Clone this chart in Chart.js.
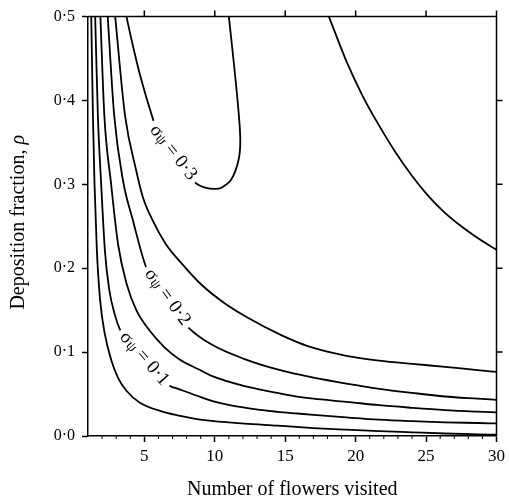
<!DOCTYPE html>
<html>
<head>
<meta charset="utf-8">
<script src="https://cdn.jsdelivr.net/npm/chart.js@4.4.1/dist/chart.umd.min.js"></script>
<style>
  html, body { margin: 0; padding: 0; background: #fff; }
  #wrap { width: 509px; height: 502px; }
</style>
</head>
<body>
<div id="wrap"><canvas id="contour_chart" width="509" height="502"></canvas></div>
<script>
const serif = "'Liberation Serif', 'DejaVu Serif', serif";

const x_ticks = [5, 10, 15, 20, 25, 30];
const y_ticks = [0, 0.1, 0.2, 0.3, 0.4, 0.5];

// contour lines, from the corner outwards
const s05_x = [1.23, 1.35, 1.46, 1.63, 1.86, 2.19, 2.66, 3.14, 3.73, 4.66, 6.29, 7.45, 8.62, 9.78, 12.12, 14.45, 17.0, 19.34, 21.67, 24.0, 26.34, 28.66, 30];
const s05_rho = [0.5, 0.382, 0.302, 0.221, 0.162, 0.122, 0.090, 0.069, 0.054, 0.040, 0.029, 0.0243, 0.0205, 0.0181, 0.0148, 0.0124, 0.0095, 0.0075, 0.0058, 0.0044, 0.0030, 0.0020, 0.0015];

const s10_x = [1.51, 1.70, 1.93, 2.2, 2.5, 2.9, 3.24, 3.6, 4.3, 5.0, 5.9, 6.8, 7.45, 8.73, 9.78, 12.12, 14.45, 15.85, 17.01, 19.34, 21.67, 24.01, 26.34, 28.66, 30];
const s10_rho = [0.5, 0.382, 0.302, 0.221, 0.175, 0.145, 0.128, 0.119, 0.106, 0.092, 0.075, 0.060, 0.0559, 0.048, 0.0419, 0.0337, 0.0288, 0.0268, 0.0252, 0.0222, 0.0195, 0.0177, 0.0163, 0.0155, 0.0150];

const s15_x = [1.88, 2.16, 2.63, 3.14, 3.73, 4.43, 5.36, 6.41, 7.45, 8.85, 9.78, 12.12, 14.45, 15.85, 17.01, 19.34, 21.67, 24.01, 26.34, 28.66, 30];
const s15_rho = [0.5, 0.382, 0.302, 0.228, 0.182, 0.150, 0.126, 0.106, 0.0919, 0.0795, 0.0717, 0.0595, 0.0514, 0.0470, 0.0445, 0.0408, 0.0367, 0.0336, 0.0309, 0.0290, 0.0281];

const s20_x = [2.40, 2.86, 3.49, 4.19, 5.13, 6.6, 8.15, 9.78, 12.12, 14.45, 15.85, 17.01, 19.34, 21.67, 24.01, 26.34, 28.66, 30];
const s20_rho = [0.5, 0.382, 0.304, 0.257, 0.201, 0.162, 0.129, 0.109, 0.0917, 0.0793, 0.0737, 0.0695, 0.0625, 0.0563, 0.0514, 0.0471, 0.0445, 0.0431];

const s25_x = [2.93, 3.63, 4.43, 4.89, 5.59, 6.52, 7.69, 9.08, 10.72, 12.35, 14.68, 15.85, 17.01, 19.34, 21.67, 24.01, 26.34, 28.66, 30];
const s25_rho = [0.5, 0.382, 0.316, 0.285, 0.257, 0.229, 0.205, 0.180, 0.158, 0.141, 0.1205, 0.112, 0.105, 0.0956, 0.0899, 0.0860, 0.0825, 0.0785, 0.0765];

// closed loop of sigma = 0.3
const s30_x = [3.73, 4.19, 4.78, 5.48, 5.9, 6.41, 7.45, 8.62, 9.32, 10.02, 10.48, 11.18, 11.70, 11.81, 11.65, 11.30, 11.0];
const s30_rho = [0.5, 0.465, 0.425, 0.385, 0.365, 0.353, 0.329, 0.302, 0.296, 0.2945, 0.296, 0.306, 0.330, 0.354, 0.394, 0.453, 0.5];

// upper right line
const s30b_x = [18.1, 19.34, 20.51, 21.67, 22.84, 24.01, 25.17, 26.34, 27.50, 28.66, 30];
const s30b_rho = [0.5, 0.447, 0.405, 0.370, 0.338, 0.310, 0.286, 0.266, 0.250, 0.236, 0.222];

const label_text = ["0·1", "0·2", "0·3"];
const label_x = [5.0, 6.64, 7.05];
const label_rho = [0.0924, 0.1656, 0.338];

const contours = [
  [s05_x, s05_rho], [s10_x, s10_rho], [s15_x, s15_rho],
  [s20_x, s20_rho], [s25_x, s25_rho], [s30_x, s30_rho], [s30b_x, s30b_rho],
];

const to_points = (xs, ys) => xs.map((x, i) => ({ x: x, y: ys[i] }));

const label_angle = [48.7, 54.2, 52];

const draw_contour_label = (ctx, chart, i) => {
  const px = chart.scales.x.getPixelForValue(label_x[i]);
  const py = chart.scales.y.getPixelForValue(label_rho[i]);
  ctx.save();
  ctx.translate(px, py);
  ctx.rotate(label_angle[i] * Math.PI / 180);
  // white gap in the line under the label
  ctx.fillStyle = "#fff";
  ctx.fillRect(-37, -8, 74, 16);
  ctx.fillStyle = "#000";
  ctx.textBaseline = "middle";
  ctx.textAlign = "left";
  ctx.font = `19px ${serif}`;
  const w_sig = ctx.measureText("σ").width;
  ctx.font = `15px ${serif}`;
  const w_psi = ctx.measureText("ψ").width;
  ctx.font = `19px ${serif}`;
  const rest = " = " + label_text[i];
  const w_rest = ctx.measureText(rest).width;
  let x0 = -(w_sig + w_psi + w_rest) / 2;
  ctx.fillText("σ", x0, 0);
  ctx.font = `15px ${serif}`;
  ctx.fillText("ψ", x0 + w_sig, 2);
  ctx.font = `19px ${serif}`;
  ctx.fillText(rest, x0 + w_sig + w_psi, 0);
  ctx.restore();
};

const frame_plugin = {
  id: "frame",
  afterDatasetsDraw(chart) {
    const ctx = chart.ctx;
    const area = chart.chartArea;
    const xs = chart.scales.x;
    const ys = chart.scales.y;
    ctx.save();
    ctx.strokeStyle = "#000";
    ctx.lineWidth = 1.5;
    ctx.beginPath();
    // top and right axis lines
    ctx.moveTo(area.left, area.top);
    ctx.lineTo(area.right, area.top);
    ctx.moveTo(area.right, area.top);
    ctx.lineTo(area.right, area.bottom);
    // top ticks
    x_ticks.forEach((v) => {
      const p = xs.getPixelForValue(v);
      ctx.moveTo(p, area.top);
      ctx.lineTo(p, area.top - 6);
    });
    // right ticks
    y_ticks.slice(1, 5).forEach((v) => {
      const p = ys.getPixelForValue(v);
      ctx.moveTo(area.right, p);
      ctx.lineTo(area.right + 6, p);
    });
    ctx.stroke();
    // minor ticks on the bottom axis
    ctx.lineWidth = 1;
    ctx.beginPath();
    for (let v = 2; v < 30; v++) {
      if (v % 5 === 0) continue;
      const p = xs.getPixelForValue(v);
      ctx.moveTo(p, area.bottom);
      ctx.lineTo(p, area.bottom + 3);
    }
    ctx.stroke();
    ctx.restore();

    label_text.forEach((t, i) => draw_contour_label(ctx, chart, i));

    // y title with italic rho
    ctx.save();
    ctx.translate(19, (area.top + area.bottom) / 2 - 4);
    ctx.rotate(-Math.PI / 2);
    ctx.fillStyle = "#000";
    ctx.textBaseline = "middle";
    ctx.textAlign = "left";
    const part1 = "Deposition fraction, ";
    ctx.font = `20px ${serif}`;
    const w1 = ctx.measureText(part1).width;
    ctx.font = `italic 20px ${serif}`;
    const w2 = ctx.measureText("ρ").width;
    const x0 = -(w1 + w2) / 2;
    ctx.font = `20px ${serif}`;
    ctx.fillText(part1, x0, 0);
    ctx.font = `italic 20px ${serif}`;
    ctx.fillText("ρ", x0 + w1, 0);
    ctx.restore();
  },
};

const config_contour = {
  type: "scatter",
  data: {
    datasets: contours.map(([xs, ys], i) => ({
      data: to_points(xs, ys),
      showLine: true,
      borderColor: "#000",
      borderWidth: 1.8,
      pointRadius: 0,
      // the loop is not monotone in x, the other lines are
      cubicInterpolationMode: xs === s30_x ? "default" : "monotone",
      tension: 0.35,
      fill: false,
    })),
  },
  options: {
    responsive: false,
    animation: false,
    devicePixelRatio: 1,
    layout: { padding: { top: 15, right: 8, left: 0, bottom: 0 } },
    plugins: {
      legend: { display: false },
      tooltip: { enabled: false },
    },
    scales: {
      x: {
        type: "linear",
        min: 1,
        max: 30,
        afterBuildTicks: (scale) => {
          scale.ticks = x_ticks.map((v) => ({ value: v }));
        },
        afterFit: (scale) => {
          scale.height = 66;
        },
        ticks: {
          color: "#000",
          font: { family: serif, size: 17 },
          padding: 4,
          maxRotation: 0,
        },
        grid: {
          drawOnChartArea: false,
          drawTicks: true,
          tickLength: 6,
          tickColor: "#000",
          tickWidth: 1.5,
        },
        border: { display: true, color: "#000", width: 1.5 },
        title: {
          display: true,
          text: "Number of flowers visited",
          color: "#000",
          font: { family: serif, size: 20 },
          padding: { top: 0, bottom: 0 },
        },
      },
      y: {
        type: "linear",
        min: 0,
        max: 0.5,
        afterBuildTicks: (scale) => {
          scale.ticks = y_ticks.map((v) => ({ value: v }));
        },
        afterFit: (scale) => {
          scale.width = 88;
        },
        ticks: {
          color: "#000",
          font: { family: serif, size: 16 },
          padding: 7,
          callback: (v) => v.toFixed(1).replace(".", "·"),
        },
        grid: {
          drawOnChartArea: false,
          drawTicks: true,
          tickLength: 6,
          tickColor: "#000",
          tickWidth: 1.5,
        },
        border: { display: true, color: "#000", width: 1.5 },
      },
    },
  },
  plugins: [frame_plugin],
};

var ctx_contour = document.getElementById("contour_chart");
var contour_chart = new Chart(ctx_contour, config_contour);
</script>
</body>
</html>
